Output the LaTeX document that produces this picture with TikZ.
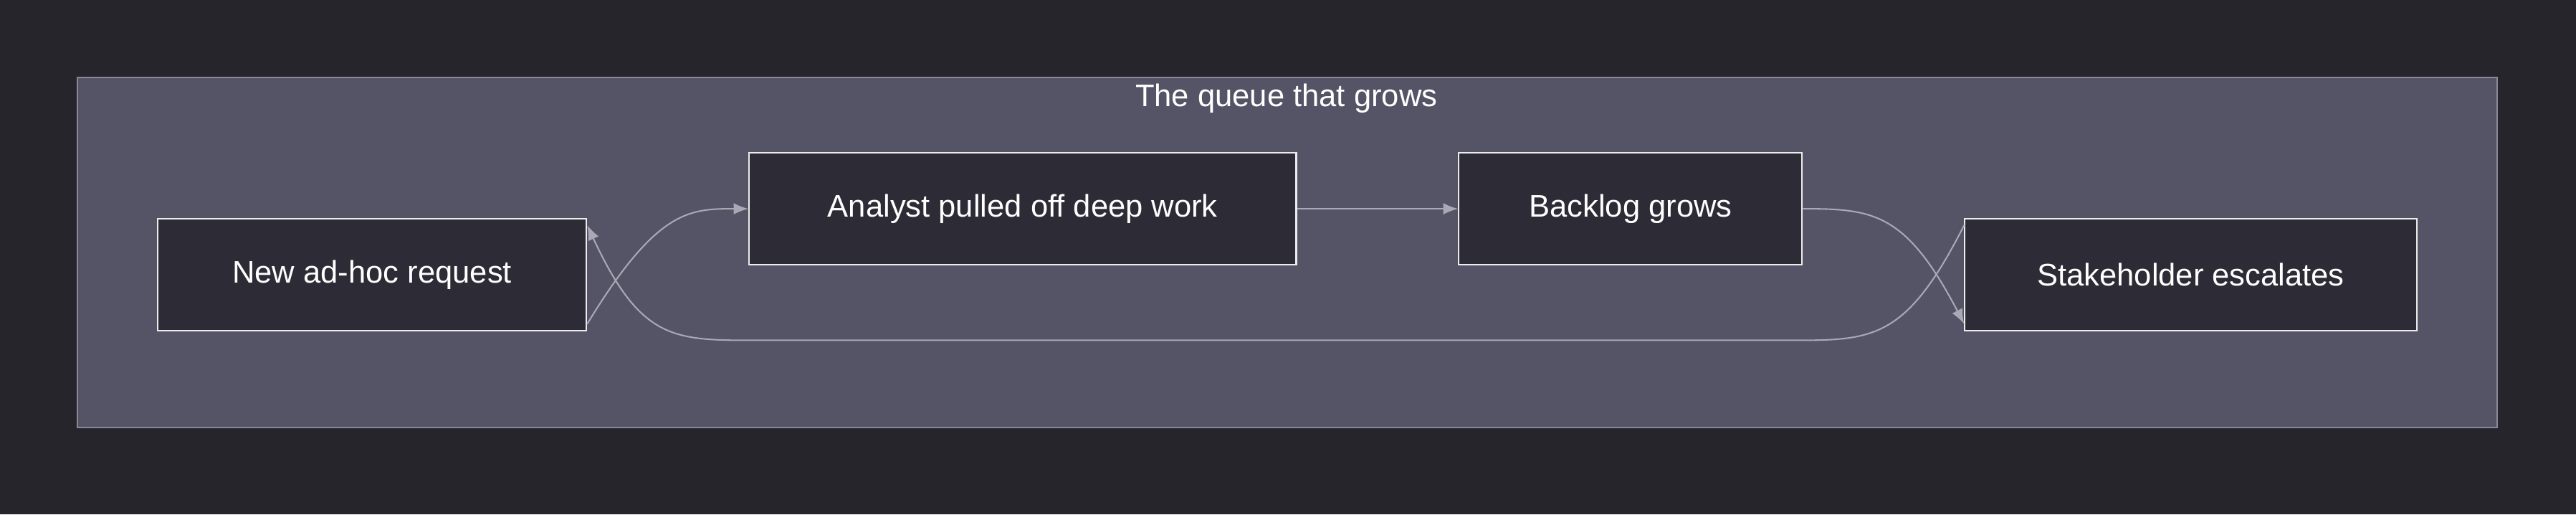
\documentclass[tikz,border=0pt]{standalone}
\usepackage{fontspec}
\setmainfont{Liberation Sans}
\usetikzlibrary{arrows.meta}
\definecolor{bg}{HTML}{26252B}
\definecolor{clus}{HTML}{555366}
\definecolor{clusb}{HTML}{8A8898}
\definecolor{nodef}{HTML}{2D2C36}
\definecolor{edge}{HTML}{A9A8B5}
\begin{document}
\begin{tikzpicture}[x=1pt,y=-1pt,
  box/.style={draw=white!85!gray,line width=0.9pt,fill=nodef,text=white,font=\fontsize{19}{22}\selectfont,inner sep=0pt},
  conn/.style={draw=edge,line width=0.9pt,-{Latex[length=9pt,width=7pt]}}]
\fill[bg] (0,0) rectangle (1568,313);
\useasboundingbox (0,0) rectangle (1568,313);
\draw[fill=clus,draw=clusb,line width=0.9pt] (47,47) rectangle (1520,260);
\node[text=white,font=\fontsize{19}{22}\selectfont] (t) at (783,60) {The queue that grows};
\node[box,minimum width=261pt,minimum height=68pt] (n1) at (226.5,167) {New ad-hoc request};
\node[box,minimum width=333pt,minimum height=68pt] (n2) at (622.5,127) {Analyst pulled off deep work};
\node[box,minimum width=209pt,minimum height=68pt] (n3) at (992.5,127) {Backlog grows};
\node[box,minimum width=275pt,minimum height=68pt] (n4) at (1333.5,167) {Stakeholder escalates};
\coordinate (a1) at ([yshift=-30pt]n1.east);
\coordinate (a2) at ([yshift=30pt]n1.east);
\coordinate (b1) at ([yshift=-30pt]n4.west);
\coordinate (b2) at ([yshift=30pt]n4.west);
\draw[conn] (a1) .. controls (400,127) and (420,127) .. (n2.west);
\draw[conn] (n2.east) -- (n3.west);
\draw[conn] (n3.east) .. controls (1140,127) and (1160,129) .. (b1);
\draw[conn] (b2) .. controls (1160,207) and (1140,207) .. (1090,207) -- (460,207) .. controls (410,207) and (390,207) .. (a2);
\end{tikzpicture}
\end{document}
